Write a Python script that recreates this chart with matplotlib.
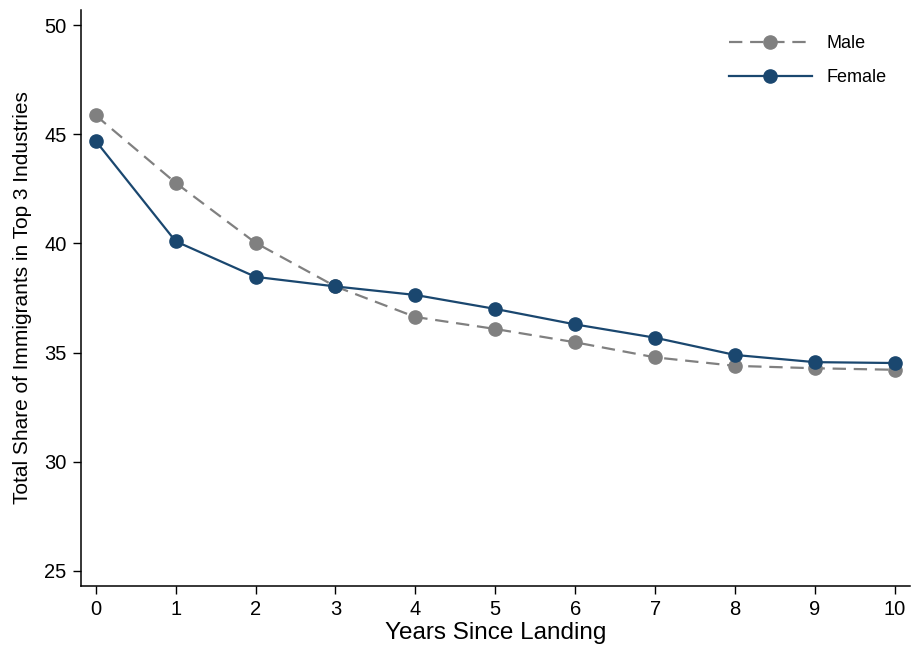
import matplotlib
matplotlib.use("Agg")
import matplotlib.pyplot as plt

plt.rcParams['font.family'] = ['Liberation Sans', 'DejaVu Sans']

years = [0, 1, 2, 3, 4, 5, 6, 7, 8, 9, 10]
male = [45.87, 42.78, 40.03, 38.03, 36.63, 36.08, 35.47, 34.78, 34.39, 34.28, 34.21]
female = [44.70, 40.10, 38.47, 38.03, 37.64, 37.00, 36.29, 35.68, 34.89, 34.56, 34.52]
yticks = [25, 30, 35, 40, 45, 50]
xticks = list(range(0, 11))

fig = plt.figure(figsize=(9.11, 6.47), dpi=100)
ax = fig.add_axes([0.0884, 0.0943, 0.9105, 0.8902])

ax.plot(years, male, color='#808080', linestyle=(0, (6, 3.5)), linewidth=1.6,
        marker='o', markersize=9.5, label='Male')
ax.plot(years, female, color='#1a476f', linestyle='-', linewidth=1.6,
        marker='o', markersize=9.5, label='Female')

ax.set_xlim(-0.19, 10.19)
ax.set_ylim(24.3, 50.7)
ax.set_xticks(xticks)
ax.set_yticks(yticks)
ax.tick_params(axis='both', labelsize=14.5, length=6, width=1, direction='out', colors='black', pad=4)
for s in ['top', 'right']:
    ax.spines[s].set_visible(False)
for s in ['left', 'bottom']:
    ax.spines[s].set_linewidth(1.1)

ax.set_xlabel('Years Since Landing', fontsize=17.5, labelpad=2)
ax.set_ylabel('Total Share of Immigrants in Top 3 Industries', fontsize=15, labelpad=9)

ax.legend(loc='upper left', bbox_to_anchor=(0.762, 0.985), frameon=False, fontsize=13,
          handlelength=4.6, handletextpad=0.8, labelspacing=0.95)

fig.savefig('out.png', dpi=100)
